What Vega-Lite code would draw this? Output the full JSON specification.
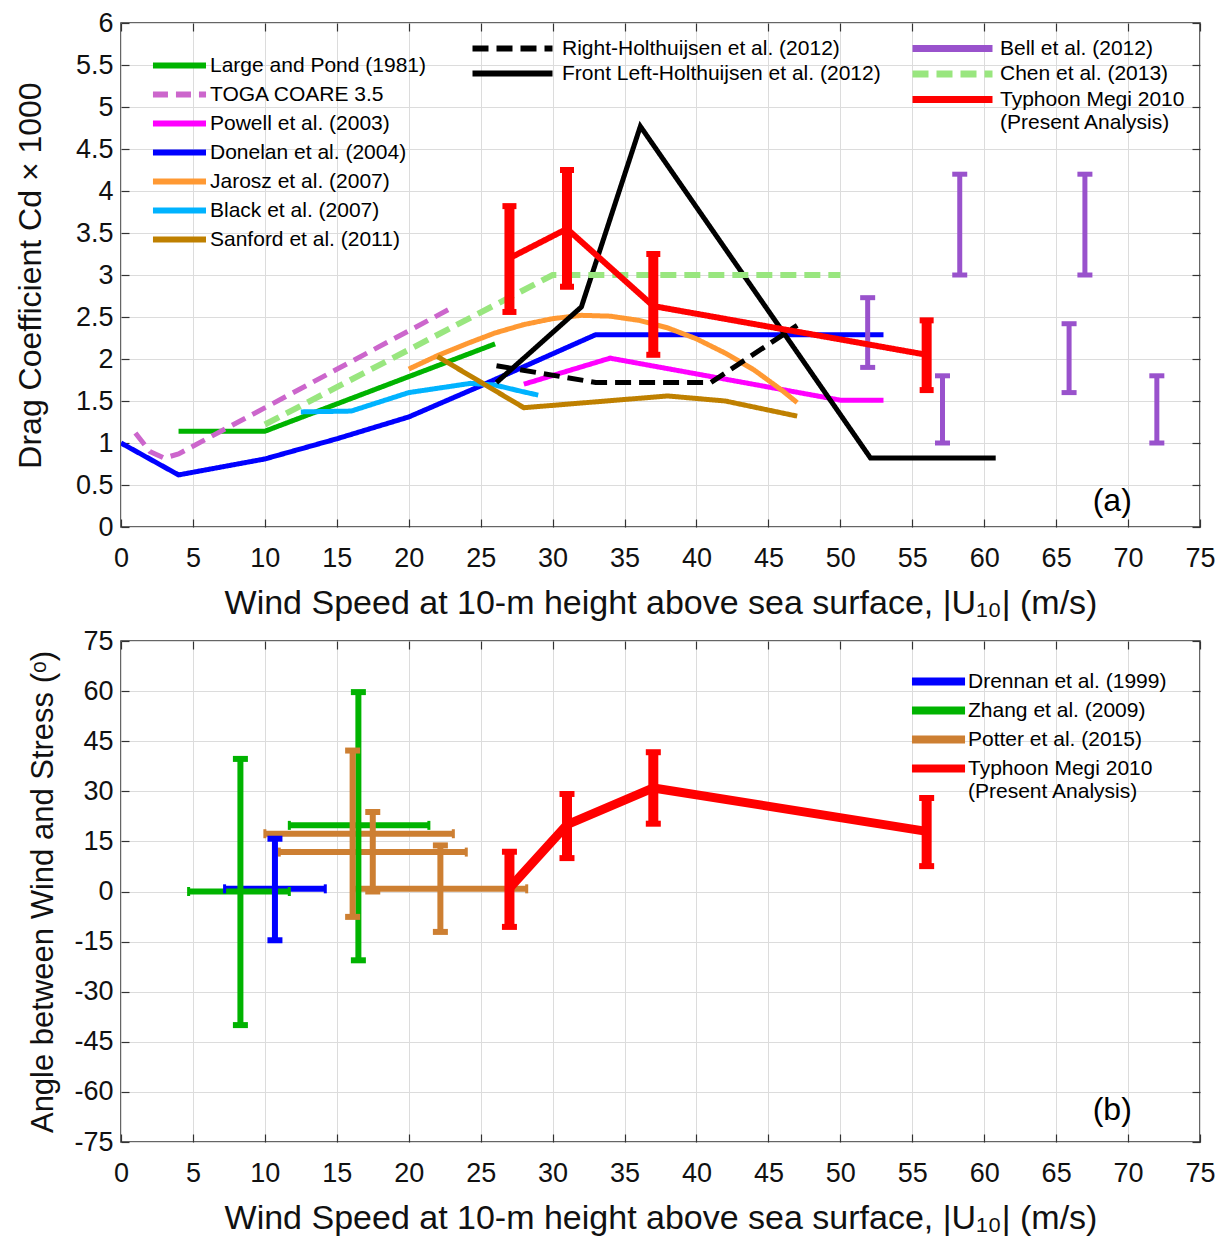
{
  "$schema": "https://vega.github.io/schema/vega-lite/v6.json",
  "padding": {"left": 13, "top": 8, "right": 5, "bottom": 5},
  "background": "white",
  "spacing": 114,
  "bounds": "flush",
  "config": {
    "font": "Liberation Sans",
    "view": {"stroke": "#333333", "strokeWidth": 1.5},
    "axis": {"labelFont": "Liberation Sans", "labelFontSize": 27, "labelColor": "#111111", "titleFont": "Liberation Sans", "titleFontSize": 31, "titleFontWeight": "normal", "titleColor": "#111111", "gridColor": "#dcdcdc", "gridWidth": 1, "domain": false, "tickColor": "#333333", "tickSize": -8, "tickWidth": 1.2, "labelPadding": 16, "labelFlush": false, "labelOverlap": false},
    "legend": {"labelFont": "Liberation Sans", "labelFontSize": 21, "labelColor": "#000000", "labelLimit": 1000, "padding": 0}
  },
  "datasets": {
    "aL": [
      {"s": "Large and Pond (1981)", "x": 4, "y": 1.14},
      {"s": "Large and Pond (1981)", "x": 10, "y": 1.14},
      {"s": "Large and Pond (1981)", "x": 26, "y": 2.18},
      {"s": "TOGA COARE 3.5", "x": 1, "y": 1.12},
      {"s": "TOGA COARE 3.5", "x": 2, "y": 0.9},
      {"s": "TOGA COARE 3.5", "x": 3, "y": 0.82},
      {"s": "TOGA COARE 3.5", "x": 4, "y": 0.87},
      {"s": "TOGA COARE 3.5", "x": 23, "y": 2.61},
      {"s": "Powell et al. (2003)", "x": 28, "y": 1.7},
      {"s": "Powell et al. (2003)", "x": 34, "y": 2.01},
      {"s": "Powell et al. (2003)", "x": 50, "y": 1.51},
      {"s": "Powell et al. (2003)", "x": 53, "y": 1.51},
      {"s": "Donelan et al. (2004)", "x": 0, "y": 1.0},
      {"s": "Donelan et al. (2004)", "x": 4, "y": 0.62},
      {"s": "Donelan et al. (2004)", "x": 10, "y": 0.81},
      {"s": "Donelan et al. (2004)", "x": 15, "y": 1.05},
      {"s": "Donelan et al. (2004)", "x": 20, "y": 1.31},
      {"s": "Donelan et al. (2004)", "x": 25, "y": 1.68},
      {"s": "Donelan et al. (2004)", "x": 33, "y": 2.29},
      {"s": "Donelan et al. (2004)", "x": 53, "y": 2.29},
      {"s": "Jarosz et al. (2007)", "x": 20, "y": 1.88},
      {"s": "Jarosz et al. (2007)", "x": 22, "y": 2.04},
      {"s": "Jarosz et al. (2007)", "x": 24, "y": 2.18},
      {"s": "Jarosz et al. (2007)", "x": 26, "y": 2.31},
      {"s": "Jarosz et al. (2007)", "x": 28, "y": 2.41},
      {"s": "Jarosz et al. (2007)", "x": 30, "y": 2.48},
      {"s": "Jarosz et al. (2007)", "x": 32, "y": 2.52},
      {"s": "Jarosz et al. (2007)", "x": 34, "y": 2.51},
      {"s": "Jarosz et al. (2007)", "x": 36, "y": 2.46},
      {"s": "Jarosz et al. (2007)", "x": 38, "y": 2.37},
      {"s": "Jarosz et al. (2007)", "x": 40, "y": 2.24},
      {"s": "Jarosz et al. (2007)", "x": 42, "y": 2.07},
      {"s": "Jarosz et al. (2007)", "x": 44, "y": 1.87},
      {"s": "Jarosz et al. (2007)", "x": 46, "y": 1.62},
      {"s": "Jarosz et al. (2007)", "x": 47, "y": 1.48},
      {"s": "Black et al. (2007)", "x": 12.5, "y": 1.37},
      {"s": "Black et al. (2007)", "x": 16, "y": 1.38},
      {"s": "Black et al. (2007)", "x": 20, "y": 1.6},
      {"s": "Black et al. (2007)", "x": 24.3, "y": 1.71},
      {"s": "Black et al. (2007)", "x": 26, "y": 1.69},
      {"s": "Black et al. (2007)", "x": 27.7, "y": 1.62},
      {"s": "Black et al. (2007)", "x": 29, "y": 1.57},
      {"s": "Sanford et al. (2011)", "x": 22, "y": 2.03},
      {"s": "Sanford et al. (2011)", "x": 28, "y": 1.42},
      {"s": "Sanford et al. (2011)", "x": 33, "y": 1.49},
      {"s": "Sanford et al. (2011)", "x": 38, "y": 1.56},
      {"s": "Sanford et al. (2011)", "x": 42, "y": 1.5},
      {"s": "Sanford et al. (2011)", "x": 47, "y": 1.32}
    ],
    "aM": [
      {"s": "Right-Holthuijsen et al. (2012)", "x": 26.1, "y": 1.92},
      {"s": "Right-Holthuijsen et al. (2012)", "x": 33, "y": 1.72},
      {"s": "Right-Holthuijsen et al. (2012)", "x": 41, "y": 1.72},
      {"s": "Right-Holthuijsen et al. (2012)", "x": 47, "y": 2.4},
      {"s": "Front Left-Holthuijsen et al. (2012)", "x": 26.1, "y": 1.72},
      {"s": "Front Left-Holthuijsen et al. (2012)", "x": 32, "y": 2.62},
      {"s": "Front Left-Holthuijsen et al. (2012)", "x": 36.1, "y": 4.77},
      {"s": "Front Left-Holthuijsen et al. (2012)", "x": 52.1, "y": 0.82},
      {"s": "Front Left-Holthuijsen et al. (2012)", "x": 60.8, "y": 0.82}
    ],
    "aR": [
      {"s": "Chen et al. (2013)", "x": 10, "y": 1.22},
      {"s": "Chen et al. (2013)", "x": 30, "y": 3.0},
      {"s": "Chen et al. (2013)", "x": 50, "y": 3.0},
      {"s": "Typhoon Megi 2010", "x": 27, "y": 3.2},
      {"s": "Typhoon Megi 2010", "x": 31, "y": 3.55},
      {"s": "Typhoon Megi 2010", "x": 37, "y": 2.63},
      {"s": "Typhoon Megi 2010", "x": 56, "y": 2.05}
    ],
    "bell": [
      {"x": 51.9, "lo": 1.9, "hi": 2.73},
      {"x": 57.1, "lo": 1.0, "hi": 1.8},
      {"x": 58.3, "lo": 3.0, "hi": 4.2},
      {"x": 65.9, "lo": 1.6, "hi": 2.42},
      {"x": 67.0, "lo": 3.0, "hi": 4.2},
      {"x": 72.0, "lo": 1.0, "hi": 1.8}
    ],
    "megiA": [
      {"x": 27, "lo": 2.56, "hi": 3.82},
      {"x": 31, "lo": 2.86, "hi": 4.25},
      {"x": 37, "lo": 2.05, "hi": 3.25},
      {"x": 56, "lo": 1.63, "hi": 2.46}
    ],
    "bErr": [
      {"s": "Drennan et al. (1999)", "x": 10.7, "y": 0.8, "ylo": -14.6, "yhi": 15.8, "xlo": 7.2, "xhi": 14.2},
      {"s": "Zhang et al. (2009)", "x": 8.3, "y": 0, "ylo": -40, "yhi": 39.7, "xlo": 4.7, "xhi": 11.7},
      {"s": "Zhang et al. (2009)", "x": 16.5, "y": 19.8, "ylo": -20.6, "yhi": 59.7, "xlo": 11.7, "xhi": 21.4},
      {"s": "Potter et al. (2015)", "x": 16.1, "y": 17.3, "ylo": -7.6, "yhi": 42.2, "xlo": 10.0, "xhi": 23.1},
      {"s": "Potter et al. (2015)", "x": 17.5, "y": 11.8, "ylo": 0, "yhi": 23.8, "xlo": 11.0, "xhi": 24.0},
      {"s": "Potter et al. (2015)", "x": 22.2, "y": 0.8, "ylo": -12.1, "yhi": 13.8, "xlo": 16.1, "xhi": 28.2},
      {"s": "Typhoon Megi 2010", "x": 27, "y": 1, "ylo": -10.6, "yhi": 11.9},
      {"s": "Typhoon Megi 2010", "x": 31, "y": 20, "ylo": 10, "yhi": 29.2},
      {"s": "Typhoon Megi 2010", "x": 37, "y": 31, "ylo": 20.3, "yhi": 41.7},
      {"s": "Typhoon Megi 2010", "x": 56, "y": 18, "ylo": 7.6, "yhi": 28}
    ]
  },
  "vconcat": [
    {
      "width": 1079,
      "height": 504,
      "layer": [
        {
          "layer": [
            {
              "data": {"name": "aL"},
              "mark": {"type": "line", "strokeWidth": 5, "clip": true},
              "encoding": {
                "x": {"field": "x", "type": "quantitative", "scale": {"domain": [0, 75], "nice": false}, "axis": {"orient": "bottom", "values": [0,5,10,15,20,25,30,35,40,45,50,55,60,65,70,75], "labelExpr": "datum.value + ''", "title": "Wind Speed at 10-m height above sea surface, |U₁₀| (m/s)", "labelPadding": 26, "titlePadding": 15, "titleFontSize": 34}},
                "y": {"field": "y", "type": "quantitative", "scale": {"domain": [0, 6], "nice": false}, "axis": {"orient": "left", "values": [0,0.5,1,1.5,2,2.5,3,3.5,4,4.5,5,5.5,6], "labelExpr": "datum.value + ''", "title": "Drag Coefficient Cd × 1000", "titlePadding": 28, "titleFontSize": 32}},
                "color": {"field": "s", "type": "nominal",
                  "scale": {"domain": ["Large and Pond (1981)", "TOGA COARE 3.5", "Powell et al. (2003)", "Donelan et al. (2004)", "Jarosz et al. (2007)", "Black et al. (2007)", "Sanford et al. (2011)"],
                            "range": ["#00b300", "#cc66cc", "#ff00ff", "#0000ff", "#ff9933", "#00b3ff", "#bf8000"]},
                  "legend": {"title": null, "orient": "none", "legendX": 48, "legendY": 32, "symbolType": "M-8,0H8", "symbolSize": 44, "symbolStrokeWidth": 6, "labelOffset": 20, "rowPadding": 4}},
                "strokeDash": {"field": "s", "type": "nominal",
                  "scale": {"domain": ["Large and Pond (1981)", "TOGA COARE 3.5", "Powell et al. (2003)", "Donelan et al. (2004)", "Jarosz et al. (2007)", "Black et al. (2007)", "Sanford et al. (2011)"],
                            "range": [[1,0],[15,8],[1,0],[1,0],[1,0],[1,0],[1,0]]},
                  "legend": {"title": null, "orient": "none", "legendX": 48, "legendY": 32, "symbolType": "M-8,0H8", "symbolSize": 44, "symbolStrokeWidth": 6, "labelOffset": 20, "rowPadding": 4}}
              }
            },
            {
              "data": {"name": "aM"},
              "mark": {"type": "line", "strokeWidth": 5, "clip": true},
              "encoding": {
                "x": {"field": "x", "type": "quantitative"},
                "y": {"field": "y", "type": "quantitative"},
                "color": {"field": "s", "type": "nominal",
                  "scale": {"domain": ["Right-Holthuijsen et al. (2012)", "Front Left-Holthuijsen et al. (2012)"], "range": ["#000000", "#000000"]},
                  "legend": {"title": null, "orient": "none", "legendX": 381, "legendY": 15, "symbolType": "M-8,0H8", "symbolSize": 100, "symbolStrokeWidth": 6, "labelOffset": 39, "rowPadding": 0}},
                "strokeDash": {"field": "s", "type": "nominal",
                  "scale": {"domain": ["Right-Holthuijsen et al. (2012)", "Front Left-Holthuijsen et al. (2012)"], "range": [[16,8],[1,0]]},
                  "legend": {"title": null, "orient": "none", "legendX": 381, "legendY": 15, "symbolType": "M-8,0H8", "symbolSize": 100, "symbolStrokeWidth": 6, "labelOffset": 39, "rowPadding": 0}}
              }
            },
            {
              "data": {"name": "bell"},
              "mark": {"type": "rule", "color": "#9952cc", "strokeWidth": 5},
              "encoding": {
                "x": {"field": "x", "type": "quantitative"},
                "y": {"field": "lo", "type": "quantitative"},
                "y2": {"field": "hi"}
              }
            },
            {
              "data": {"name": "bell"},
              "transform": [{"fold": ["lo", "hi"], "as": ["end", "v"]}],
              "mark": {"type": "tick", "orient": "horizontal", "color": "#9952cc", "size": 15, "thickness": 5, "opacity": 1},
              "encoding": {
                "x": {"field": "x", "type": "quantitative"},
                "y": {"field": "v", "type": "quantitative"}
              }
            },
            {
              "data": {"name": "aR"},
              "mark": {"type": "line", "strokeWidth": 6, "clip": true},
              "encoding": {
                "x": {"field": "x", "type": "quantitative"},
                "y": {"field": "y", "type": "quantitative"},
                "color": {"field": "s", "type": "nominal",
                  "scale": {"domain": ["Bell et al. (2012)", "Chen et al. (2013)", "Typhoon Megi 2010"], "range": ["#9952cc", "#99e67f", "#ff0000"]},
                  "legend": {"title": null, "orient": "none", "legendX": 821, "legendY": 15, "symbolType": "M-8,0H8", "symbolSize": 100, "symbolStrokeWidth": 7, "labelOffset": 37, "rowPadding": -3.5,
                             "labelExpr": "datum.label == 'Typhoon Megi 2010' ? ['Typhoon Megi 2010', '(Present Analysis)'] : datum.label"}},
                "strokeDash": {"field": "s", "type": "nominal",
                  "scale": {"domain": ["Bell et al. (2012)", "Chen et al. (2013)", "Typhoon Megi 2010"], "range": [[1,0],[16,8],[1,0]]},
                  "legend": {"title": null, "orient": "none", "legendX": 821, "legendY": 15, "symbolType": "M-8,0H8", "symbolSize": 100, "symbolStrokeWidth": 7, "labelOffset": 37, "rowPadding": -3.5,
                             "labelExpr": "datum.label == 'Typhoon Megi 2010' ? ['Typhoon Megi 2010', '(Present Analysis)'] : datum.label"}},
                "strokeWidth": {"condition": {"test": "datum.s == 'Typhoon Megi 2010'", "value": 8}, "value": 6}
              }
            },
            {
              "data": {"name": "megiA"},
              "mark": {"type": "rule", "color": "#ff0000", "strokeWidth": 10},
              "encoding": {
                "x": {"field": "x", "type": "quantitative"},
                "y": {"field": "lo", "type": "quantitative"},
                "y2": {"field": "hi"}
              }
            },
            {
              "data": {"name": "megiA"},
              "transform": [{"fold": ["lo", "hi"], "as": ["end", "v"]}],
              "mark": {"type": "tick", "orient": "horizontal", "color": "#ff0000", "size": 14, "thickness": 6, "opacity": 1},
              "encoding": {
                "x": {"field": "x", "type": "quantitative"},
                "y": {"field": "v", "type": "quantitative"}
              }
            }
          ],
          "resolve": {"scale": {"color": "independent", "strokeDash": "independent", "strokeWidth": "independent"}}
        },
        {
          "data": {"values": [{}]},
          "mark": {"type": "text", "fontSize": 32, "font": "Liberation Sans", "color": "#000000", "align": "center", "baseline": "middle"},
          "encoding": {
            "x": {"datum": 68.9, "type": "quantitative", "axis": {"orient": "top", "labels": false, "title": null, "grid": false, "values": [0,5,10,15,20,25,30,35,40,45,50,55,60,65,70,75]}},
            "y": {"datum": 0.31, "type": "quantitative", "axis": {"orient": "right", "labels": false, "title": null, "grid": false, "values": [0,0.5,1,1.5,2,2.5,3,3.5,4,4.5,5,5.5,6]}},
            "text": {"value": "(a)"}
          }
        }
      ]
    },
    {
      "width": 1079,
      "height": 501,
      "layer": [
        {
          "layer": [
            {
              "data": {"name": "bErr"},
              "transform": [{"filter": "isValid(datum.xlo)"}],
              "mark": {"type": "rule", "strokeWidth": 6},
              "encoding": {
                "x": {"field": "xlo", "type": "quantitative", "scale": {"domain": [0, 75], "nice": false}, "axis": {"orient": "bottom", "values": [0,5,10,15,20,25,30,35,40,45,50,55,60,65,70,75], "labelExpr": "datum.value + ''", "title": "Wind Speed at 10-m height above sea surface, |U₁₀| (m/s)", "labelPadding": 26, "titlePadding": 15, "titleFontSize": 34}},
                "x2": {"field": "xhi"},
                "y": {"field": "y", "type": "quantitative", "scale": {"domain": [-75, 75], "nice": false}, "axis": {"orient": "left", "values": [-75,-60,-45,-30,-15,0,15,30,45,60,75], "labelExpr": "datum.value + ''", "title": "Angle between Wind and Stress (ᵒ)", "titlePadding": 14}},
                "color": {"field": "s", "type": "nominal",
                  "scale": {"domain": ["Drennan et al. (1999)", "Zhang et al. (2009)", "Potter et al. (2015)", "Typhoon Megi 2010"], "range": ["#0000ff", "#00b300", "#cd7f32", "#ff0000"]},
                  "legend": {"title": null, "orient": "none", "legendX": 807, "legendY": 648, "symbolType": "M-8,0H8", "symbolSize": 44, "symbolStrokeWidth": 8, "labelOffset": 19, "rowPadding": -4,
                             "labelExpr": "datum.label == 'Typhoon Megi 2010' ? ['Typhoon Megi 2010', '\u2007(Present Analysis)'] : datum.label"}}
              }
            },
            {
              "data": {"name": "bErr"},
              "transform": [{"filter": "isValid(datum.xlo)"}, {"fold": ["xlo", "xhi"], "as": ["end", "v"]}],
              "mark": {"type": "tick", "orient": "vertical", "size": 9, "thickness": 3, "opacity": 1},
              "encoding": {
                "x": {"field": "v", "type": "quantitative"},
                "y": {"field": "y", "type": "quantitative"},
                "color": {"field": "s", "type": "nominal", "legend": null}
              }
            },
            {
              "data": {"name": "bErr"},
              "mark": {"type": "rule"},
              "encoding": {
                "x": {"field": "x", "type": "quantitative"},
                "y": {"field": "ylo", "type": "quantitative"},
                "y2": {"field": "yhi"},
                "color": {"field": "s", "type": "nominal", "legend": null},
                "strokeWidth": {"condition": {"test": "datum.s == 'Typhoon Megi 2010'", "value": 10}, "value": 6}
              }
            },
            {
              "data": {"name": "bErr"},
              "transform": [{"fold": ["ylo", "yhi"], "as": ["end", "v"]}],
              "mark": {"type": "tick", "orient": "horizontal", "size": 15, "thickness": 6, "opacity": 1},
              "encoding": {
                "x": {"field": "x", "type": "quantitative"},
                "y": {"field": "v", "type": "quantitative"},
                "color": {"field": "s", "type": "nominal", "legend": null}
              }
            },
            {
              "data": {"name": "bErr"},
              "transform": [{"filter": "datum.s == 'Typhoon Megi 2010'"}],
              "mark": {"type": "line", "strokeWidth": 9},
              "encoding": {
                "x": {"field": "x", "type": "quantitative"},
                "y": {"field": "y", "type": "quantitative"},
                "color": {"field": "s", "type": "nominal", "legend": null}
              }
            }
          ]
        },
        {
          "data": {"values": [{}]},
          "mark": {"type": "text", "fontSize": 32, "font": "Liberation Sans", "color": "#000000", "align": "center", "baseline": "middle"},
          "encoding": {
            "x": {"datum": 68.9, "type": "quantitative", "axis": {"orient": "top", "labels": false, "title": null, "grid": false, "values": [0,5,10,15,20,25,30,35,40,45,50,55,60,65,70,75]}},
            "y": {"datum": -65.3, "type": "quantitative", "axis": {"orient": "right", "labels": false, "title": null, "grid": false, "values": [-75,-60,-45,-30,-15,0,15,30,45,60,75]}},
            "text": {"value": "(b)"}
          }
        }
      ]
    }
  ]
}
